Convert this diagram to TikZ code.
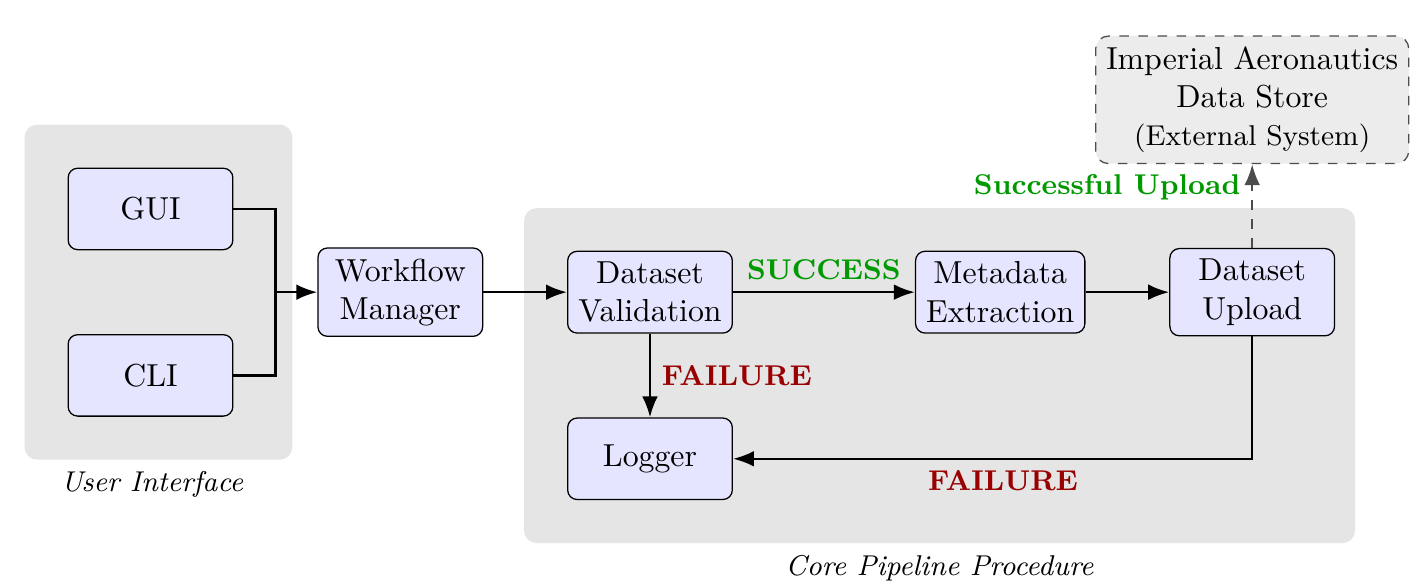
\documentclass[tikz,border=0pt]{standalone}
\usepackage{amsmath}
\usepackage{tikz}
\usetikzlibrary{positioning,fit,calc,backgrounds,arrows.meta}
\tikzset{
block/.style={draw=black,fill=blue!10,rounded corners=3pt,minimum width=1.82cm,minimum height=0.9cm,align=center,font=\normalsize},
extbox/.style={draw=black!70,dashed,fill=gray!15,rounded corners=4pt,align=center,font=\normalsize},
panel/.style={fill=gray!20,rounded corners=4pt,inner sep=0pt},
caption/.style={font=\small\itshape},
flowarrow/.style={-{Latex},thick},
feedline/.style={thick},
okflow/.style={-{Latex},thick,dashed,black!70},
oktag/.style={font=\small\bfseries,text=green!60!black},
failtag/.style={font=\small\bfseries,text=red!60!black}
}

\begin{document}
\begin{tikzpicture}
\useasboundingbox (0,0) rectangle (15.635,6.475);
\node[block] (gui) at (1.663,4.166) {GUI};
\node[block,below=0.925cm of gui] (cli) {CLI};
\coordinate (join) at ($(gui.east)!0.5!(cli.east)+(0.463,0)$);
\node[block,right=0.463cm of join] (wf) {Workflow\\Manager};
\node[block,right=0.925cm of wf] (val) {Dataset\\Validation};
\node[block,right=2.01cm of val] (meta) {Metadata\\Extraction};
\node[block,right=0.925cm of meta] (upl) {Dataset\\Upload};
\node[block,below=0.925cm of val] (log) {Logger};
\node[extbox,above=0.925cm of upl] (store) {Imperial Aeronautics\\Data Store\\{\small (External System)}};

\begin{scope}[on background layer]
\node[panel,fit={($(gui.north west)+(-0.475,0.475)$) ($(cli.south east)+(0.65,-0.475)$)}] (uipanel) {};
\node[panel,fit={($(log.south west)+(-0.475,-0.475)$) ($(upl.north east)+(0.22,0.44)$)}] (corepanel) {};
\end{scope}
\node[caption,below=0pt of uipanel,xshift=-0.07cm] (uilabel) {User Interface};
\node[caption,below=0pt of corepanel] (corelabel) {Core Pipeline Procedure};

\draw[feedline] (gui.east) -| (join);
\draw[feedline] (cli.east) -| (join);
\draw[flowarrow] (join) -- (wf);
\draw[flowarrow] (wf) -- (val);
\draw[flowarrow] (val) -- node[oktag,above] {SUCCESS} (meta);
\draw[flowarrow] (meta) -- (upl);
\draw[flowarrow] (val) -- node[failtag,right] {FAILURE} (log);
\draw[flowarrow] (upl) |- node[failtag,pos=0.74,below] {FAILURE} (log);
\draw[okflow] (upl) -- node[oktag,pos=0.72,left] {Successful Upload} (store);
\end{tikzpicture}
\end{document}
